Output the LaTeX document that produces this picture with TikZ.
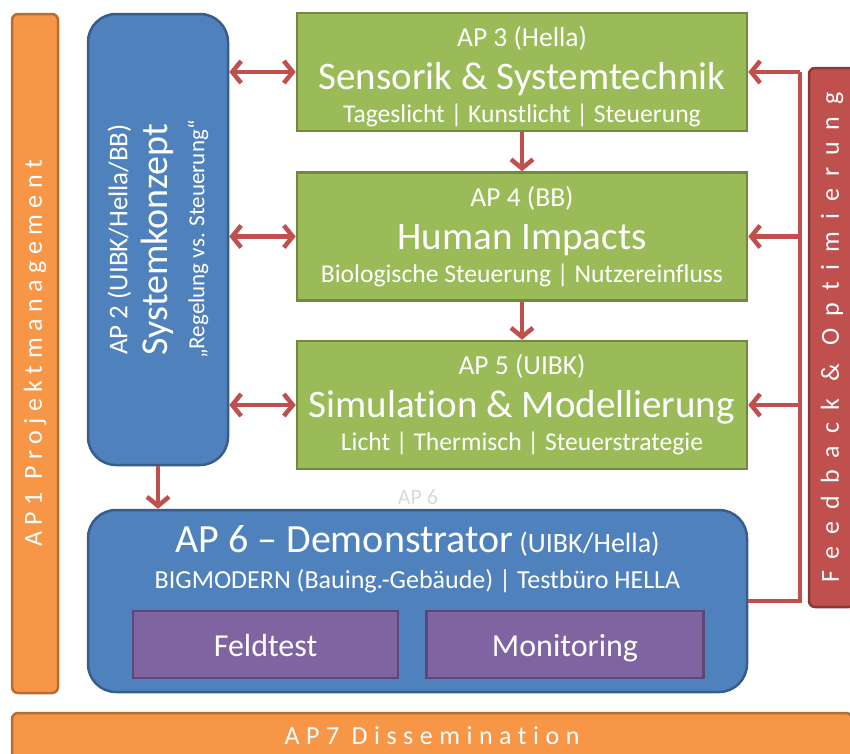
\documentclass[tikz,border=0pt]{standalone}
\usepackage{fontspec}
\setmainfont[Ligatures={TeX,CommonOff}]{Carlito}
\newfontfamily\spacedfont[Ligatures=CommonOff, LetterSpace=25]{Carlito}
\newfontfamily\widefont[Ligatures=CommonOff, LetterSpace=46]{Carlito}
\usetikzlibrary{arrows.meta}
\usetikzlibrary{positioning}
\definecolor{aporange}{HTML}{F79646}
\definecolor{aporangeline}{HTML}{B66D31}
\definecolor{apblue}{HTML}{4F81BD}
\definecolor{apblueline}{HTML}{385D8A}
\definecolor{apgreen}{HTML}{9BBB59}
\definecolor{apgreenline}{HTML}{71893F}
\definecolor{apred}{HTML}{C0504D}
\definecolor{apredline}{HTML}{8C3836}
\definecolor{appurple}{HTML}{8064A2}
\definecolor{appurpleline}{HTML}{5C4776}
\newcommand{\fs}[2]{\fontsize{#1}{#2}\selectfont}
\tikzset{
  apbox/.style={draw, line width=2.5pt, text=white, align=center, inner sep=0pt},
  orangebar/.style={apbox, fill=aporange, draw=aporangeline, rounded corners=6pt,
    font=\spacedfont\fs{26}{30}},
  bluebox/.style={apbox, fill=apblue, draw=apblueline, rounded corners=28pt},
  greenbox/.style={apbox, fill=apgreen, draw=apgreenline, minimum width=450,
    font=\fs{25.6}{40}},
  purplebox/.style={apbox, fill=appurple, draw=appurpleline, minimum height=67,
    font=\fs{32}{36}, text height=26pt, text depth=3pt},
  tip/.tip={Straight Barb[length=9pt, width=22pt]},
  arr/.style={draw=apred, line width=4.5pt, -tip},
  biarr/.style={arr, tip-tip},
  fbline/.style={draw=apred, line width=4pt}
}
\newcommand{\aphead}[1]{{\fs{27.5}{40}#1}\\[3pt]}
\newcommand{\aptitle}[1]{{\fs{39}{40}#1}\\[-7pt]}
\begin{document}
\begin{tikzpicture}[x=1pt, y=1pt]
  \useasboundingbox (0,0) rectangle (850,-753);

  % side bars
  \node [orangebar, rotate=90, minimum width=679, minimum height=46] (ap1) at (35,-353.5) {AP1 Projektmanagement};
  \node [orangebar, minimum width=840, minimum height=46] (ap7) at (432,-736) {AP7 Dissemination};
  \node [orangebar, fill=apred, draw=apredline, rotate=90, minimum width=539, minimum height=46,
    font=\widefont\fs{26}{30}] (fb) at (832,-337.5) {Feedback \& Optimierung};

  \node [bluebox, rotate=90, minimum width=451, minimum height=140, font=\fs{27}{40}] (ap2) at (158,-239.5)
    {AP 2 (UIBK/Hella/BB)\\{\fs{38}{40}Systemkonzept}\\[-3pt]{\fs{23}{28}„Regelung vs. Steuerung“}};

  \node [greenbox, minimum height=118] (ap3) at (522,-72)
    {\aphead{\rule{0pt}{29pt}AP 3 (Hella)}\aptitle{Sensorik \& Systemtechnik}Tageslicht | Kunstlicht | Steuerung};
  \node [greenbox, minimum height=128, below=39 of ap3] (ap4)
    {\aphead{AP 4 (BB)}\aptitle{Human Impacts}Biologische Steuerung | Nutzereinfluss};
  \node [greenbox, minimum height=128, below=38 of ap4] (ap5)
    {\aphead{AP 5 (UIBK)}\aptitle{Simulation \& Modellierung}Licht | Thermisch | Steuerstrategie};

  \node [text=black!15, font=\fs{22}{24}] (ghost) at (418,-497) {AP 6};

  \node [bluebox, minimum width=659, minimum height=182] (ap6) at (417.5,-601) {};
  \node [text=white, align=center, font=\fs{26}{36}, below=13 of ap6.north] (ap6text)
    {{\fs{40}{40}AP 6 – Demonstrator} {\fs{28}{30}(UIBK/Hella)}\\BIGMODERN (Bauing.-Gebäude) | Testbüro HELLA};
  \node [purplebox, minimum width=265] (feldtest) at (265.5,-644.5) {Feldtest};
  \node [purplebox, minimum width=277, right=26 of feldtest] (monitoring) {Monitoring};

  % connectors
  \draw [biarr] (ap2.south |- ap3) -- (ap3.west);
  \draw [biarr] (ap2.south |- ap4) -- (ap4.west);
  \draw [biarr] (ap2.south |- ap5) -- (ap5.west);
  \draw [arr] (ap3.south) -- (ap4.north);
  \draw [arr] (ap4.south) -- (ap5.north);
  \draw [arr] (ap2.west) -- (ap2.west |- ap6.north);

  \coordinate (fbx) at (800,0);
  \draw [fbline] (ap6.east) -- (fbx |- ap6.east) -- (fbx |- ap3.east);
  \draw [arr] (fbx |- ap3.east) -- (ap3.east);
  \draw [arr] (fbx |- ap4.east) -- (ap4.east);
  \draw [arr] (fbx |- ap5.east) -- (ap5.east);
\end{tikzpicture}
\end{document}
